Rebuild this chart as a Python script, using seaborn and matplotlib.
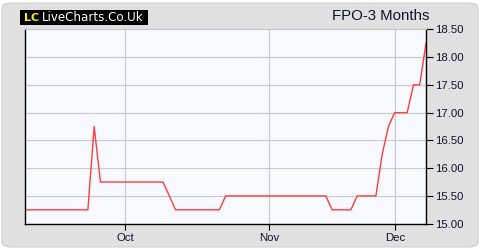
import matplotlib
matplotlib.use("Agg")
import matplotlib.pyplot as plt
from matplotlib.patches import FancyBboxPatch, Rectangle
import seaborn as sns
import pandas as pd

# ---- data (trading-day index -> price) ----
prices = ([15.25] * 11 + [16.75] + [15.75] * 11 + [15.5] + [15.25] * 8 +
          [15.5] * 17 + [15.25] * 4 + [15.5] * 4 + [16.25, 16.75] +
          [17.0] * 3 + [17.5] * 2 + [18.25])
day_index = list(range(len(prices)))
month_labels = ["Oct", "Nov", "Dec"]
month_positions = [16, 39, 59.1]
y_ticks = [15.0, 15.5, 16.0, 16.5, 17.0, 17.5, 18.0, 18.5]
title = "FPO-3 Months"

df = pd.DataFrame({"day": day_index, "price": prices})

sns.set_theme(style="white")
plt.rcParams["font.family"] = ["Liberation Sans", "DejaVu Sans"]

fig = plt.figure(figsize=(4.8, 2.5), dpi=100)
fig.patch.set_facecolor("white")

# rounded grey panel
panel = FancyBboxPatch((0.004, 0.012), 0.992, 0.976,
                       boxstyle="round,pad=0,rounding_size=0.02",
                       transform=fig.transFigure, facecolor="#e0e0e0",
                       edgecolor="#d0d0d0", linewidth=0.8, zorder=-10)
fig.patches.append(panel)

ax = fig.add_axes([25.3 / 480, 1 - 223.7 / 250, (426 - 25.3) / 480, (223.7 - 29.3) / 250])
ax.set_zorder(5)
ax.set_facecolor("#f8f9ff")

sns.lineplot(data=df, x="day", y="price", ax=ax, color="#ff3b3b", linewidth=1.0)

ax.set_xlim(0, len(prices) - 1)
ax.set_ylim(15.0, 18.5)
ax.set_xlabel("")
ax.set_ylabel("")

ax.set_xticks(month_positions)
ax.set_xticklabels(month_labels)
ax.set_yticks(y_ticks)
ax.set_yticklabels([f"{v:.2f}" for v in y_ticks])
ax.yaxis.tick_right()

ax.grid(True, color="#c8c8c8", linewidth=0.8)
ax.set_axisbelow(True)

for side in ["left", "bottom", "right"]:
    ax.spines[side].set_visible(True)
    ax.spines[side].set_color("black")
    ax.spines[side].set_linewidth(1.0)
ax.spines["top"].set_color("#c8c8c8")
ax.spines["top"].set_linewidth(0.8)

ax.tick_params(axis="y", which="both", right=True, left=False, length=5, width=0.8,
               color="black", labelsize=8.2, labelcolor="#101030", pad=1.5, direction="out")
ax.tick_params(axis="x", which="both", bottom=True, length=4, width=0.8,
               color="black", labelsize=8.2, labelcolor="#101030", pad=3, direction="out")

# title
fig.text(430 / 480, 1 - 16 / 250, title, ha="right", va="center",
         fontsize=10.8, color="#101030", zorder=6)

# logo
fig.patches.append(Rectangle((20 / 480, 1 - 24.5 / 250), 128 / 480, 14 / 250,
                             transform=fig.transFigure, facecolor="black",
                             edgecolor="none", zorder=1))
fig.text(24 / 480, 1 - 17.5 / 250, "LC", ha="left", va="center", fontsize=8,
         fontweight="bold", color="#ffee00", family=["DejaVu Sans"], zorder=2)
fig.text(42 / 480, 1 - 17.5 / 250, "LiveCharts.Co.Uk", ha="left", va="center",
         fontsize=8.6, color="white", family=["DejaVu Sans"], zorder=2)

fig.savefig("out.png", dpi=100, facecolor=fig.get_facecolor())
